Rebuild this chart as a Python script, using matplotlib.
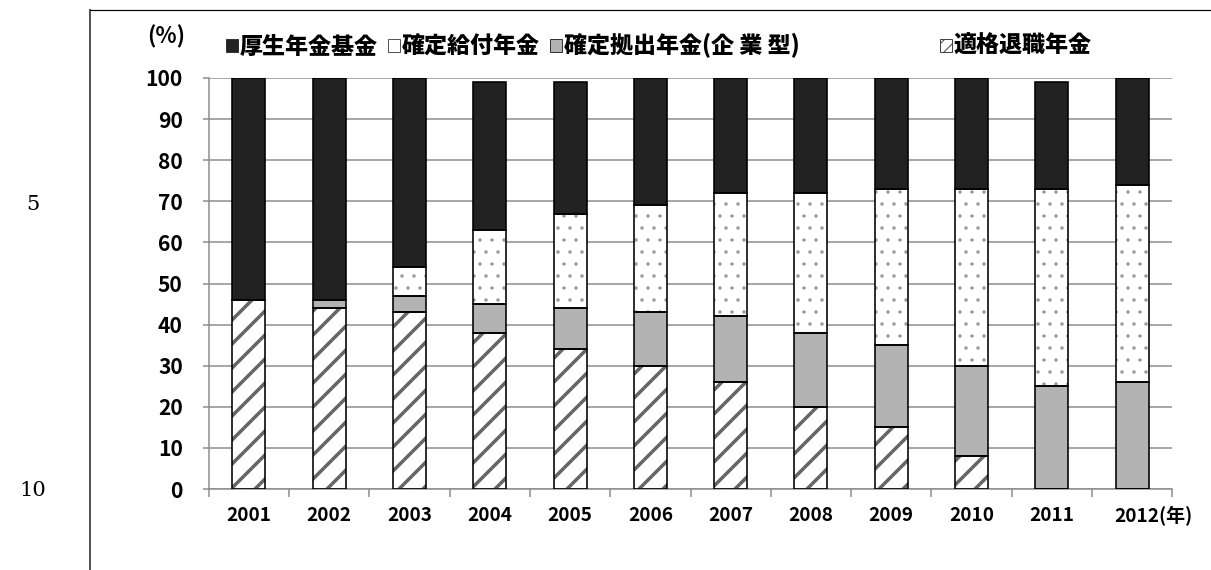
import matplotlib
matplotlib.use("Agg")
import matplotlib.pyplot as plt
from matplotlib.patches import Patch
from matplotlib.lines import Line2D
from matplotlib.transforms import ScaledTranslation
import numpy as np

# share of each pension type by year (%)
years = ['2001', '2002', '2003', '2004', '2005', '2006',
         '2007', '2008', '2009', '2010', '2011', '2012']
tekikaku = [46, 44, 43, 38, 34, 30, 26, 20, 15, 8, 0, 0]        # 適格退職年金
kyoshutsu = [0, 2, 4, 7, 10, 13, 16, 18, 20, 22, 25, 26]        # 確定拠出年金(企業型)
kyufu = [0, 0, 7, 18, 23, 26, 30, 34, 38, 43, 48, 48]           # 確定給付年金
kosei = [54, 54, 46, 36, 32, 31, 28, 28, 27, 27, 26, 26]        # 厚生年金基金

plt.rcParams['font.family'] = ['Noto Sans CJK JP', 'DejaVu Sans']

W, H = 1211, 570
fig = plt.figure(figsize=(W / 72, H / 72), dpi=72)
ax = fig.add_axes([208.7 / W, 1 - 489 / H, (1172.3 - 208.7) / W, (489 - 78) / H])

x = np.arange(len(years))
w = 0.41
grid_c = '#8c8c8c'

# bottom to top: hatch, gray, dotted, black
series = [
    (tekikaku, 'white', '/', '#666666', 3.5),
    (kyoshutsu, '#b3b3b3', None, None, 1.0),
    (kyufu, 'white', '.', '#9a9a9a', 1.0),
    (kosei, '#222222', None, None, 1.0),
]
bottom = np.zeros(len(years))
for vals, fc, hatch, hc, hlw in series:
    vals = np.array(vals, dtype=float)
    with plt.rc_context({'hatch.linewidth': hlw}):
        if hatch:
            ax.bar(x, vals, w, bottom=bottom, color=fc, hatch=hatch,
                   edgecolor=hc, linewidth=0, zorder=2)
        else:
            ax.bar(x, vals, w, bottom=bottom, color=fc, linewidth=0, zorder=2)
    ax.bar(x, vals, w, bottom=bottom, fill=False, edgecolor='black',
           linewidth=1.6, zorder=3)
    bottom += vals

xlabels = years[:-1] + [years[-1] + '(年)']
ax.set_xlim(-0.5, len(years) - 0.5)
ax.set_ylim(0, 100)
ax.set_yticks(range(0, 101, 10))
ax.set_xticks(x, xlabels)
ax.set_xticks(np.arange(len(years) + 1) - 0.5, minor=True)
ax.yaxis.grid(True, color=grid_c, linewidth=1.5)
ax.set_axisbelow(True)
for s in ['top', 'right']:
    ax.spines[s].set_visible(False)
for s in ['left', 'bottom']:
    ax.spines[s].set_color(grid_c)
    ax.spines[s].set_linewidth(1.5)

ax.tick_params(axis='y', length=6, width=1.5, color=grid_c, pad=20,
               labelsize=21)
ax.tick_params(axis='x', which='major', length=0, pad=17, labelsize=19)
ax.tick_params(axis='x', which='minor', length=8, width=1.5, color=grid_c)
for lab in ax.get_xticklabels() + ax.get_yticklabels():
    lab.set_fontweight('bold')
# last label carries the unit, nudged right so the year stays under its bar
last = ax.get_xticklabels()[-1]
last.set_transform(last.get_transform() + ScaledTranslation(21 / 72, 0, fig.dpi_scale_trans))

fig.text(147 / W, 1 - 37 / H, '(%)', ha='left', va='center',
         fontsize=22, fontweight='bold')

# legend
with plt.rc_context({'hatch.linewidth': 1.0}):
    h_kosei = Patch(facecolor='#222222', edgecolor='#333333', label='厚生年金基金')
    h_kyufu = Patch(facecolor='white', edgecolor='#555555', label='確定給付年金')
    h_kyoshutsu = Patch(facecolor='#b3b3b3', edgecolor='#333333',
                        label='確定拠出年金(企 業 型)')
with plt.rc_context({'hatch.linewidth': 1.5}):
    h_teki = Patch(facecolor='white', edgecolor='#444444', hatch='//',
                   label='適格退職年金')

leg_kw = dict(frameon=False, loc='center left', bbox_transform=fig.transFigure,
              prop={'size': 23, 'weight': 'black'}, handlelength=0.5,
              handleheight=0.5, handletextpad=0.1, columnspacing=0.45,
              borderpad=0, borderaxespad=0)
leg1 = ax.legend(handles=[h_kosei, h_kyufu, h_kyoshutsu], ncol=3,
                 bbox_to_anchor=(226 / W, 1 - 46 / H), **leg_kw)
ax.add_artist(leg1)
ax.legend(handles=[h_teki], bbox_to_anchor=(940 / W, 1 - 46 / H), **leg_kw)

# page frame and line numbers
fig.add_artist(Line2D([90 / W, 90 / W], [0, 1 - 10 / H], color='#555555',
                      linewidth=2, transform=fig.transFigure))
fig.add_artist(Line2D([90 / W, 1], [1 - 10 / H, 1 - 10 / H], color='black',
                      linewidth=1.2, transform=fig.transFigure))
fig.text(33 / W, 1 - 205 / H, '5', ha='center', va='center',
         family='DejaVu Serif', fontsize=21)
fig.text(33 / W, 1 - 491 / H, '10', ha='center', va='center',
         family='DejaVu Serif', fontsize=21)

fig.savefig('out.png', dpi=72)
